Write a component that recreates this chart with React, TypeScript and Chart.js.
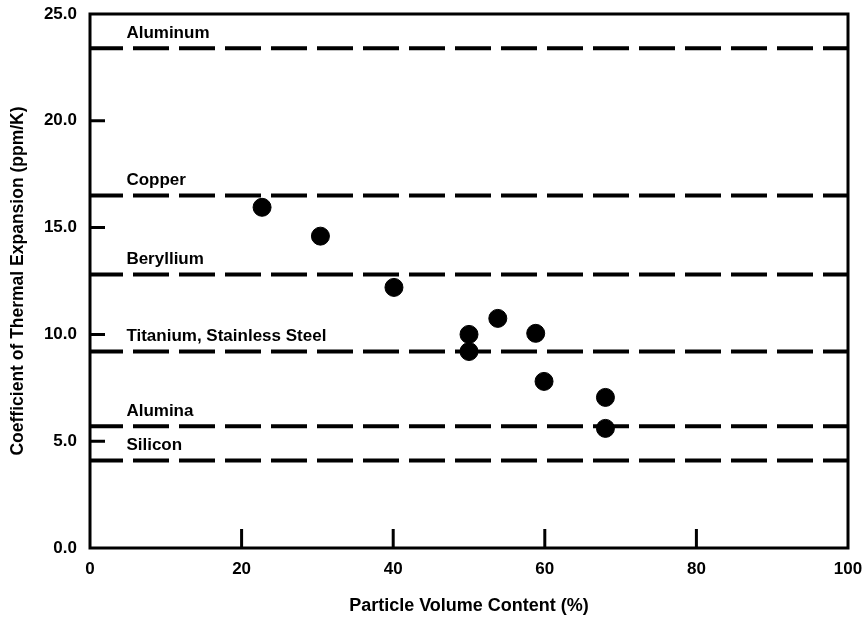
import React, { useEffect, useRef } from "react";
import { Chart, registerables } from "chart.js";

Chart.register(...registerables);

// Particle-reinforced composite data points
const volumeContent = [22.7, 30.4, 40.1, 50.0, 50.0, 53.8, 58.8, 59.9, 68.0, 68.0];
const cteValues = [15.95, 14.6, 12.2, 10.0, 9.2, 10.75, 10.05, 7.8, 7.05, 5.6];

// Reference materials (horizontal dashed lines)
const materialNames = [
  "Aluminum",
  "Copper",
  "Beryllium",
  "Titanium, Stainless Steel",
  "Alumina",
  "Silicon",
];
const materialCTE = [23.4, 16.5, 12.8, 9.2, 5.7, 4.1];

const xRange = [0, 100];
const yRange = [0, 25];
const xStep = 20;
const yStep = 5;

const xTitle = "Particle Volume Content (%)";
const yTitle = "Coefficient of Thermal Expansion (ppm/K)";

const FONT = "'Liberation Sans', Arial, Helvetica, sans-serif";

const framePlugin = {
  id: "frameAndLabels",
  afterDatasetsDraw(chart: any) {
    const { ctx, chartArea, scales } = chart;
    const xs = scales.x;
    const ys = scales.y;
    ctx.save();
    // material labels
    ctx.fillStyle = "#000";
    ctx.font = `bold 17px ${FONT}`;
    ctx.textAlign = "left";
    ctx.textBaseline = "middle";
    const lx = xs.getPixelForValue(4.8);
    materialNames.forEach((name, i) => {
      const py = ys.getPixelForValue(materialCTE[i]);
      ctx.fillText(name, lx, py - 15);
    });
    // frame
    ctx.strokeStyle = "#000";
    ctx.lineWidth = 3;
    ctx.strokeRect(
      chartArea.left,
      chartArea.top,
      chartArea.right - chartArea.left,
      chartArea.bottom - chartArea.top
    );
    // inward ticks
    ctx.lineWidth = 3;
    ctx.beginPath();
    xs.ticks.forEach((t: any) => {
      if (t.value <= xRange[0] || t.value >= xRange[1]) return;
      const px = xs.getPixelForValue(t.value);
      ctx.moveTo(px, chartArea.bottom);
      ctx.lineTo(px, chartArea.bottom - 19);
    });
    ys.ticks.forEach((t: any) => {
      if (t.value <= yRange[0] || t.value >= yRange[1]) return;
      const py = ys.getPixelForValue(t.value);
      ctx.moveTo(chartArea.left, py);
      ctx.lineTo(chartArea.left + 15, py);
    });
    ctx.stroke();
    ctx.restore();
  },
};

const zeroPadding = (s: any) => {
  s.paddingTop = 0;
  s.paddingBottom = 0;
  s.paddingLeft = 0;
  s.paddingRight = 0;
};

export default function App() {
  const canvasRef = useRef<HTMLCanvasElement | null>(null);

  useEffect(() => {
    document.body.style.margin = "0";
    const canvas = canvasRef.current;
    if (!canvas) return;

    const lineDatasets = materialCTE.map((v, i) => ({
      type: "line" as const,
      label: materialNames[i],
      data: [
        { x: xRange[0], y: v },
        { x: xRange[1], y: v },
      ],
      borderColor: "#000",
      borderWidth: 4,
      borderDash: [36, 10],
      borderDashOffset: 3,
      pointRadius: 0,
      fill: false,
    }));

    const chart = new Chart(canvas, {
      type: "scatter",
      data: {
        datasets: [
          ...lineDatasets,
          {
            type: "scatter" as const,
            label: "Composites",
            data: volumeContent.map((x, i) => ({ x, y: cteValues[i] })),
            backgroundColor: "#000",
            borderColor: "#000",
            pointRadius: 9,
            pointHoverRadius: 9,
          },
        ] as any,
      },
      options: {
        responsive: false,
        animation: false,
        devicePixelRatio: 1,
        layout: { padding: { left: 0, right: 16, top: 14, bottom: 0 } },
        plugins: {
          legend: { display: false },
          tooltip: { enabled: false },
        },
        scales: {
          x: {
            type: "linear",
            min: xRange[0],
            max: xRange[1],
            afterFit: (s: any) => {
              s.height = 71;
              zeroPadding(s);
            },
            grid: { display: false, drawTicks: false },
            border: { display: false },
            ticks: {
              stepSize: xStep,
              padding: 11,
              color: "#000",
              font: { family: FONT, size: 17, weight: "bold" },
              maxRotation: 0,
            },
            title: {
              display: true,
              text: xTitle,
              color: "#000",
              font: { family: FONT, size: 18, weight: "bold" },
              padding: { top: 0, bottom: 2 },
            },
          },
          y: {
            type: "linear",
            min: yRange[0],
            max: yRange[1],
            afterFit: (s: any) => {
              s.width = 90;
              zeroPadding(s);
            },
            grid: { display: false, drawTicks: false },
            border: { display: false },
            ticks: {
              stepSize: yStep,
              padding: 13,
              color: "#000",
              font: { family: FONT, size: 17, weight: "bold" },
              callback: (v: any) => Number(v).toFixed(1),
            },
            title: {
              display: true,
              text: yTitle,
              color: "#000",
              font: { family: FONT, size: 17.5, weight: "bold" },
              padding: { top: 8, bottom: 0 },
            },
          },
        },
      },
      plugins: [framePlugin],
    });

    return () => chart.destroy();
  }, []);

  return (
    <div style={{ width: 864, height: 619, background: "#fff" }}>
      <canvas ref={canvasRef} width={864} height={619} />
    </div>
  );
}
